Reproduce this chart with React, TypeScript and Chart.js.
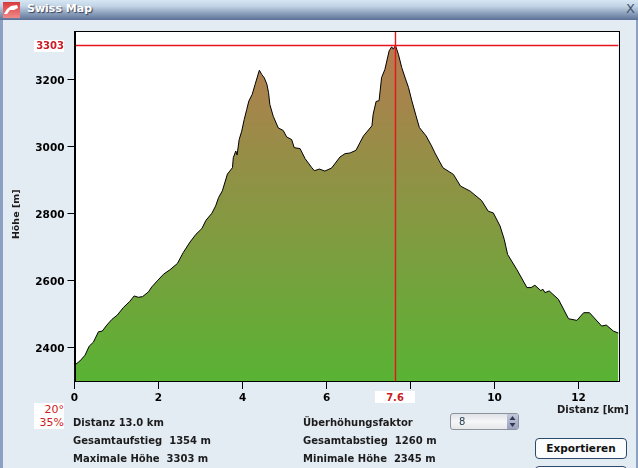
import React, { useEffect, useRef } from "react";
import { Chart, registerables } from "chart.js";

Chart.register(...registerables);

const distanceKm = [0,0.13,0.25,0.35,0.45,0.57,0.66,0.77,0.89,1.02,1.16,1.31,1.42,1.52,1.62,1.76,1.84,1.97,2.12,2.27,2.45,2.59,2.75,2.89,3.03,3.13,3.27,3.36,3.43,3.52,3.64,3.76,3.78,3.84,3.87,3.92,3.98,4.04,4.1,4.15,4.23,4.3,4.4,4.46,4.52,4.58,4.62,4.65,4.73,4.85,4.97,5.05,5.17,5.23,5.37,5.49,5.65,5.71,5.83,5.96,6.12,6.32,6.44,6.56,6.7,6.8,6.88,7.08,7.11,7.18,7.25,7.31,7.39,7.49,7.55,7.59,7.64,7.71,7.79,7.88,7.95,8.03,8.13,8.21,8.37,8.5,8.58,8.77,9.02,9.19,9.42,9.69,9.85,9.97,10.13,10.23,10.31,10.53,10.77,10.87,10.96,11.1,11.15,11.2,11.3,11.52,11.76,11.96,12.12,12.26,12.55,12.66,12.83,12.95];
const elevationM = [2348,2361,2378,2405,2417,2448,2450,2468,2485,2498,2520,2538,2555,2551,2553,2567,2582,2600,2620,2633,2652,2685,2716,2739,2756,2781,2802,2824,2849,2869,2919,2938,2968,2988,2976,3022,3047,3082,3112,3137,3157,3187,3229,3216,3206,3187,3162,3127,3092,3057,3049,3030,3022,2998,2995,2965,2938,2929,2934,2928,2937,2970,2980,2982,2990,3014,3033,3063,3098,3136,3138,3207,3232,3287,3299,3292,3303,3277,3237,3203,3178,3138,3093,3058,3033,3003,2982,2938,2918,2883,2868,2840,2808,2803,2764,2724,2679,2634,2580,2580,2587,2571,2575,2565,2570,2545,2487,2482,2505,2505,2465,2468,2450,2444];
const xTicks = [0, 2, 4, 6, 8, 10, 12];
const yTicks = [2400, 2600, 2800, 3000, 3200];
const maxHeight = 3303;
const cursorKm = 7.641;
const xMax = 12.95;
const yMin = 2301;
const yMax = 3346;

const FONT = '"DejaVu Sans", sans-serif';
const RED = "#cc1c24";
const CURSOR = "#e8141c";

const plotFrame = {
  id: "plotFrame",
  beforeDraw(chart: any) {
    const { ctx, chartArea: a } = chart;
    ctx.save();
    ctx.fillStyle = "#ffffff";
    ctx.fillRect(a.left, a.top, a.right - a.left, a.bottom - a.top);
    ctx.restore();
  },
  afterDraw(chart: any) {
    const { ctx, chartArea: a } = chart;
    ctx.save();
    ctx.strokeStyle = "#000000";
    ctx.lineWidth = 1;
    ctx.strokeRect(Math.round(a.left) + 0.5, Math.round(a.top) + 0.5, Math.round(a.right - a.left), Math.round(a.bottom - a.top));
    ctx.restore();
  },
};

const text = (left: number, top: number, extra: any = {}) => ({
  position: "absolute" as const,
  left,
  top,
  font: `bold 10px ${FONT}`,
  color: "#1c1c1c",
  whiteSpace: "pre" as const,
  lineHeight: "14px",
  ...extra,
});

export default function App() {
  const ref = useRef<HTMLCanvasElement>(null);
  useEffect(() => {
    const chart = new Chart(ref.current!, {
      type: "line",
      data: {
        datasets: [
          {
            label: "Höhe",
            data: distanceKm.map((x, i) => ({ x, y: elevationM[i] })),
            borderColor: "#000000",
            borderWidth: 1,
            pointRadius: 0,
            tension: 0,
            fill: "start",
            order: 2,
            backgroundColor: (c: any) => {
              const { chart: ch } = c;
              const a = ch.chartArea;
              if (!a) return "#5ab234";
              const g = ch.ctx.createLinearGradient(0, ch.scales.y.getPixelForValue(maxHeight), 0, a.bottom);
              g.addColorStop(0, "#b47c50");
              g.addColorStop(1, "#59b334");
              return g;
            },
          },
          {
            label: "Cursor Höhe",
            data: [{ x: 0, y: maxHeight }, { x: xMax, y: maxHeight }],
            borderColor: CURSOR,
            backgroundColor: CURSOR,
            borderWidth: 1.4,
            pointRadius: 0,
            fill: false,
            order: 0,
          },
          {
            label: "Cursor Distanz",
            data: [{ x: cursorKm, y: yMin }, { x: cursorKm, y: yMax }],
            borderColor: CURSOR,
            backgroundColor: CURSOR,
            borderWidth: 1.4,
            pointRadius: 0,
            fill: false,
            order: 0,
          },
        ],
      } as any,
      plugins: [plotFrame],
      options: {
        animation: false,
        responsive: false,
        parsing: false,
        layout: { padding: { left: 0, top: 31.1, right: 19.5, bottom: 0 } },
        plugins: { legend: { display: false }, tooltip: { enabled: false } },
        scales: {
          x: {
            type: "linear",
            min: 0,
            max: xMax,
            afterBuildTicks: (s: any) => { s.ticks = xTicks.map((value) => ({ value })); },
            afterFit: (s: any) => { s.height = 87; },
            grid: { display: true, drawOnChartArea: false, drawTicks: true, tickLength: 8, color: "#000" },
            border: { display: true, color: "#000" },
            ticks: {
              autoSkip: false,
              maxRotation: 0,
              padding: 3,
              color: "#000",
              font: { family: FONT, size: 10.5, weight: "bold" },
              callback: (v: any) => (v === 8 ? "" : String(v)),
            },
          },
          y: {
            type: "linear",
            min: yMin,
            max: yMax,
            afterBuildTicks: (s: any) => { s.ticks = yTicks.map((value) => ({ value })); },
            afterFit: (s: any) => { s.width = 74.5; },
            grid: { display: true, drawOnChartArea: false, drawTicks: true, tickLength: 7, color: "#000" },
            border: { display: true, color: "#000" },
            title: {
              display: true,
              text: "Höhe [m]     ",
              color: "#1c1c1c",
              padding: { top: 11, bottom: 0 },
              font: { family: FONT, size: 9.5, weight: "bold" },
            },
            ticks: {
              padding: 3,
              labelOffset: 1,
              color: "#000",
              font: { family: FONT, size: 10.5, weight: "bold" },
              callback: (v: any) => String(v),
            },
          },
        },
      } as any,
    });
    return () => chart.destroy();
  }, []);

  return (
    <div style={{ position: "fixed", left: 0, top: 0, width: 638, height: 468, overflow: "hidden", background: "#e3ebf3", fontFamily: FONT }}>
      <div style={{ position: "absolute", left: 0, top: 20, width: 3, height: 448, background: "#8ba0c2" }} />
      <div style={{ position: "absolute", right: 0, top: 20, width: 2, height: 448, background: "#8ba0c2" }} />
      <div style={{ position: "absolute", left: 0, top: 0, width: 638, height: 20, background: "linear-gradient(#d6e6f3 0%, #c2d4e6 30%, #8ea2bd 65%, #5d7197 100%)" }} />
      <div style={{ position: "absolute", left: 3, top: 2, width: 17, height: 16, background: "linear-gradient(#d93a3a, #ef8a8a)" }}>
        <svg width="17" height="16"><path d="M1 12 L4 7 L8 4 L14 3 L15 6 L11 8 L7 8 L4 12 Z" fill="#fff" /></svg>
      </div>
      <div style={text(27, 2, { color: "#fff", font: `bold 11px ${FONT}`, textShadow: "1px 1px 1px #33415c" })}>Swiss Map</div>
      <div style={text(626, 2, { color: "#44546e", font: `13px ${FONT}` })}>X</div>

      <canvas ref={ref} width={638} height={468} style={{ position: "absolute", left: 0, top: 0, display: "block" }} />

      <div style={text(34, 40, { width: 30, height: 12, background: "#fff", color: RED, textAlign: "right", lineHeight: "12px" })}>3303</div>
      <div style={text(375, 391, { width: 40, height: 12, background: "#fff", color: RED, textAlign: "center", lineHeight: "13px" })}>7.6</div>
      <div style={text(34, 403, { width: 30, height: 26, background: "#fff", color: RED, textAlign: "right", lineHeight: "13px", font: `11px ${FONT}` })}>{"20°\n35%"}</div>
      <div style={text(557, 403)}>Distanz [km]</div>

      <div style={text(73, 416)}>Distanz 13.0 km</div>
      <div style={text(73, 434)}>Gesamtaufstieg  1354 m</div>
      <div style={text(73, 452)}>Maximale Höhe  3303 m</div>
      <div style={text(303, 416)}>Überhöhungsfaktor</div>
      <div style={text(303, 434)}>Gesamtabstieg  1260 m</div>
      <div style={text(303, 452)}>Minimale Höhe  2345 m</div>

      <div style={{ position: "absolute", left: 450, top: 413, width: 69, height: 17, boxSizing: "border-box", border: "1px solid #8d939c", borderRadius: 3, background: "linear-gradient(#dfe3e8, #f5f6f7 50%, #e6e8ea)" }}>
        <div style={text(8, 1, { color: "#26404f", fontWeight: 400 })}>8</div>
        <div style={{ position: "absolute", right: 0, top: 0, width: 11, height: 15, background: "linear-gradient(#c2c8dc, #9aa2c0)", borderRadius: "0 2px 2px 0" }}>
          <svg width="11" height="15"><path d="M5.5 2 L8.5 6 L2.5 6 Z M5.5 13 L8.5 9 L2.5 9 Z" fill="#303a4c" /></svg>
        </div>
      </div>
      <div style={{ position: "absolute", left: 535, top: 438, width: 92, height: 21, boxSizing: "border-box", border: "1px solid #2d4a6b", borderRadius: 4, background: "#fbfcfd", textAlign: "center", font: `bold 10.5px ${FONT}`, lineHeight: "19px", color: "#111" }}>Exportieren</div>
      <div style={{ position: "absolute", left: 535, top: 466, width: 92, height: 21, boxSizing: "border-box", border: "1px solid #2d4a6b", borderRadius: 4, background: "#fbfcfd" }} />
    </div>
  );
}
